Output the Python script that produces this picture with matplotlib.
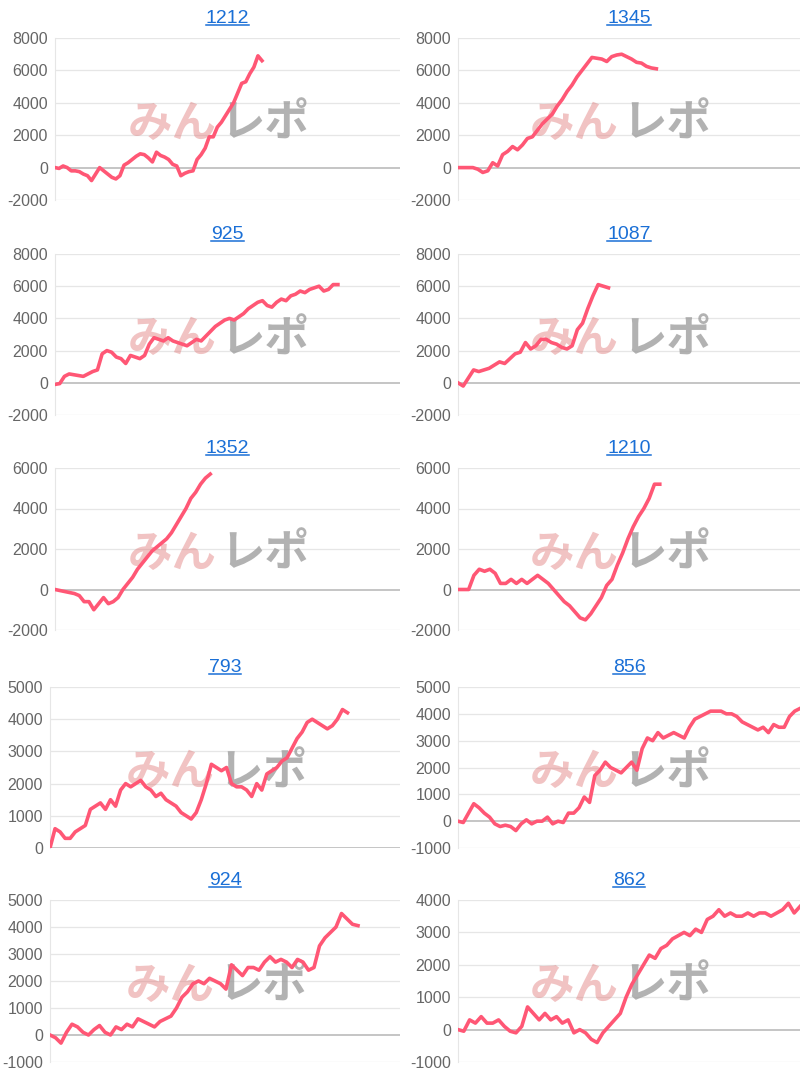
import matplotlib
matplotlib.use("Agg")
import matplotlib.pyplot as plt
from matplotlib.lines import Line2D
import numpy as np

plt.rcParams['axes.unicode_minus'] = False
plt.rcParams['font.family'] = ['Liberation Sans', 'DejaVu Sans']

titles = ["1212", "1345", "925", "1087", "1352", "1210", "793", "856", "924", "862"]
s1212 = [0,-50,100,0,-200,-200,-250,-400,-500,-800,-400,0,-200,-400,-600,-700,-500,150,300,500,700,850,800,600,350,950,750,650,500,200,100,-500,-350,-250,-200,500,800,1200,1900,1900,2500,2800,3200,3600,4000,4600,5200,5300,5800,6200,6900,6600]
s1345 = [0,0,0,0,-100,-300,-200,300,100,800,1000,1300,1100,1400,1800,1900,2300,2700,3000,3300,3800,4200,4700,5100,5600,6000,6400,6800,6750,6700,6550,6850,6950,7000,6850,6700,6500,6450,6250,6150,6100]
s925 = [-100,-50,400,550,500,450,400,550,700,800,1800,2000,1900,1600,1500,1200,1700,1600,1500,1700,2400,2800,2700,2600,2800,2600,2500,2400,2300,2500,2700,2600,2900,3200,3500,3700,3900,4000,3900,4100,4300,4600,4800,5000,5100,4800,4700,5000,5200,5100,5400,5500,5700,5600,5800,5900,6000,5700,5800,6100,6100]
s1087 = [0,-200,300,800,700,800,900,1100,1300,1200,1500,1800,1900,2500,2100,2300,2700,2700,2500,2400,2200,2100,2300,3300,3700,4600,5400,6100,6000,5900]
s1352 = [0,-50,-100,-150,-200,-300,-600,-600,-1000,-700,-400,-700,-600,-400,0,300,600,1000,1300,1600,1900,2100,2300,2500,2800,3200,3600,4000,4500,4800,5200,5500,5700]
s1210 = [0,0,0,700,1000,900,1000,800,300,300,500,300,500,300,500,700,500,300,0,-300,-600,-800,-1100,-1400,-1500,-1200,-800,-400,200,500,1200,1800,2500,3100,3600,4000,4500,5200,5200]
s793 = [0,600,500,300,300,500,600,700,1200,1300,1400,1200,1500,1300,1800,2000,1900,2000,2100,1900,1800,1600,1700,1500,1400,1300,1100,1000,900,1100,1500,2000,2600,2500,2400,2500,2000,1900,1900,1800,1600,2000,1800,2300,2400,2500,2700,2800,3100,3400,3600,3900,4000,3900,3800,3700,3800,4000,4300,4200]
s856 = [0,-50,300,650,500,300,150,-100,-200,-150,-200,-350,-100,50,-100,0,0,150,-100,0,-50,300,300,500,900,700,1700,1900,2200,2000,1900,1800,2000,2200,1900,2700,3100,3000,3300,3100,3200,3300,3200,3100,3500,3800,3900,4000,4100,4100,4100,4000,4000,3900,3700,3600,3500,3400,3500,3300,3600,3500,3500,3900,4100,4200]
s924 = [0,-100,-300,100,400,300,100,0,200,350,100,0,300,200,400,300,600,500,400,300,500,600,700,1000,1400,1600,1900,2000,1900,2100,2000,1900,1700,2600,2400,2200,2500,2500,2400,2700,2900,2700,2800,2700,2500,2800,2700,2400,2500,3300,3600,3800,4000,4500,4300,4100,4050]
s862 = [0,-50,300,200,400,200,200,300,100,-50,-100,100,700,500,300,500,300,400,200,300,-100,0,-100,-300,-400,-100,100,300,500,1000,1400,1700,2000,2300,2200,2500,2600,2800,2900,3000,2900,3100,3000,3400,3500,3700,3500,3600,3500,3500,3600,3500,3600,3600,3500,3600,3700,3900,3600,3800]
series = [s1212, s1345, s925, s1087, s1352, s1210, s793, s856, s924, s862]
span = [0.60, 0.58, 0.82, 0.44, 0.45, 0.59, 0.85, 1.0, 0.88, 1.0]
yticks = [(-2000, 8000, 2000)]*4 + [(-2000, 6000, 2000)]*2 + [(0, 5000, 1000), (-1000, 5000, 1000), (-1000, 5000, 1000), (-1000, 4000, 1000)]

W, H = 800, 1078
fig = plt.figure(figsize=(W/100, H/100), dpi=100)
tops = [38, 254, 468, 687, 900]
bots = [200, 415, 630, 848, 1062]
ttls = []
for i in range(10):
    r, c = divmod(i, 2)
    x0 = (55 if r < 3 else 50) if c == 0 else 458
    x1 = 400 if c == 0 else 800
    ax = fig.add_axes([x0/W, 1-bots[r]/H, (x1-x0)/W, (bots[r]-tops[r])/H])
    lo, hi, st = yticks[i]
    ax.set_ylim(lo, hi)
    ticks = np.arange(lo, hi+1, st)
    ax.set_yticks(ticks)
    ax.tick_params(axis='y', length=0, labelsize=11.5, labelcolor='#666666', pad=5)
    ax.set_xticks([])
    for t in ticks:
        ax.axhline(t, color='#bbbbbb' if t == 0 else '#e6e6e6', lw=1.2 if t == 0 else 0.9, zorder=0)
    for s in ['top', 'right', 'bottom']:
        ax.spines[s].set_visible(False)
    ax.spines['left'].set_color('#e6e6e6')
    y = series[i]
    n = len(y)
    ax.set_xlim(0, (n-1)/span[i])
    ax.plot(np.arange(n), y, color='#ff5775', lw=2.6, solid_joinstyle='round', zorder=3)
    ttls.append(ax.set_title(titles[i], color='#1a6fd6', fontsize=14, pad=11))
    ax.text(0.47, 0.47, 'みん', transform=ax.transAxes, ha='right', va='center', fontsize=32,
            fontweight='bold', color='#e07b7b', alpha=0.45, family=['Noto Sans CJK JP'], zorder=1)
    ax.text(0.48, 0.47, 'レポ', transform=ax.transAxes, ha='left', va='center', fontsize=32,
            fontweight='bold', color='#999999', alpha=0.75, family=['Noto Sans CJK JP'], zorder=1)

fig.canvas.draw()
r = fig.canvas.get_renderer()
for t in ttls:
    bb = t.get_window_extent(r)
    yy = (bb.y0 + 2) / H
    fig.add_artist(Line2D([bb.x0/W, bb.x1/W], [yy, yy], color='#1a6fd6', lw=1.1))
fig.savefig('out.png', dpi=100, facecolor='white')
